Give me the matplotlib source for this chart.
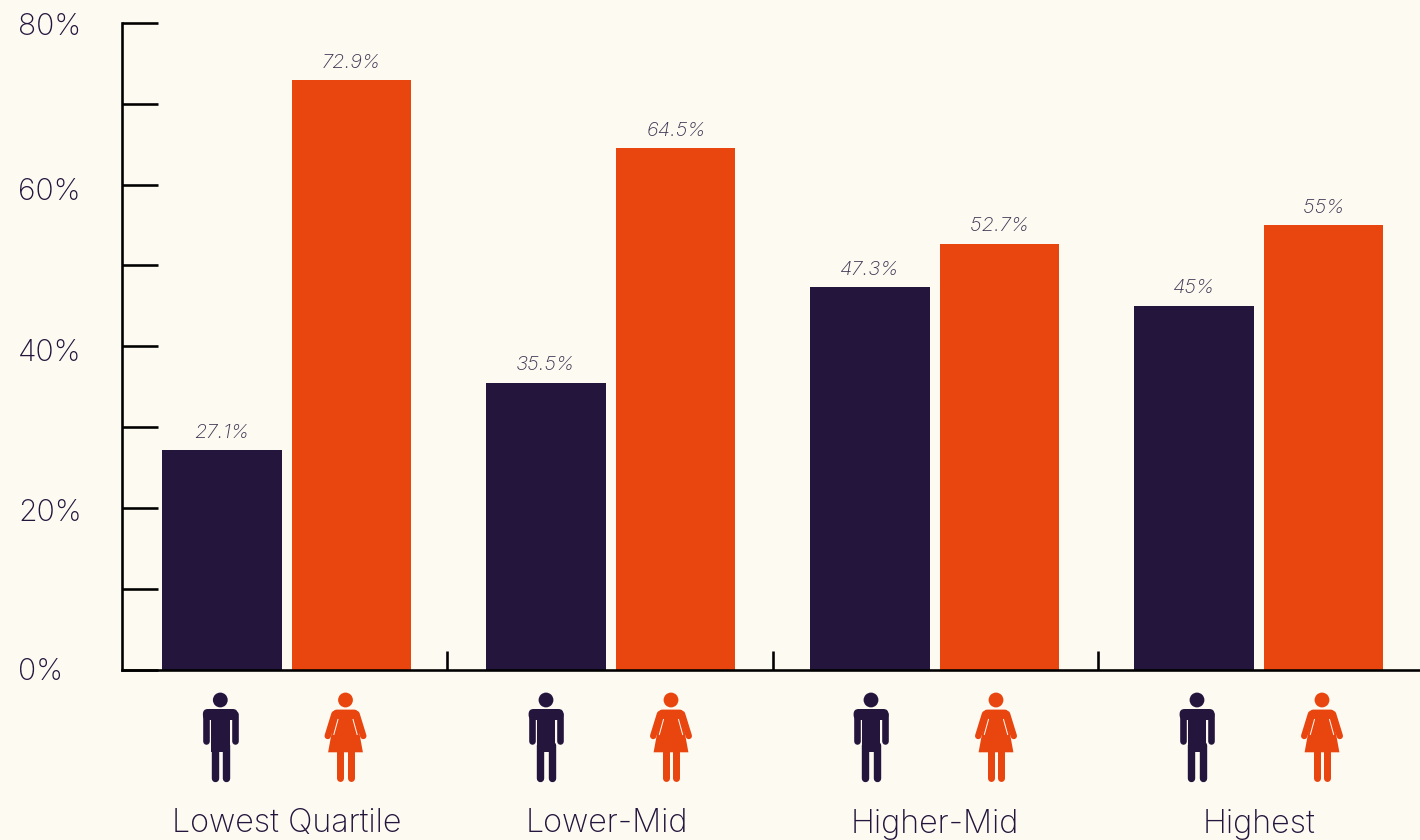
import numpy as np
import matplotlib
matplotlib.use("Agg")
import matplotlib.pyplot as plt
from matplotlib.patches import Circle, Polygon, FancyBboxPatch, Rectangle
from matplotlib.lines import Line2D
from matplotlib.transforms import ScaledTranslation

categories = ["Lowest Quartile", "Lower-Mid", "Higher-Mid", "Highest"]
men = [27.1, 35.5, 47.3, 45]
women = [72.9, 64.5, 52.7, 55]
men_labels = ["27.1%", "35.5%", "47.3%", "45%"]
women_labels = ["72.9%", "64.5%", "52.7%", "55%"]
major_ticks = [0, 20, 40, 60, 80]
minor_ticks = [10, 30, 50, 70]

NAVY = "#23153c"
ORANGE = "#e8450f"
BG = "#fdfaf2"
FONT = "Inter"
W, H = 1420, 840
PX = 0.72  # one pixel in points at dpi 100

plt.rcParams["font.family"] = [FONT, "DejaVu Sans"]


def line(ax, xs, ys, width, color, cap="round"):
    ax.add_line(Line2D(xs, ys, lw=width * PX, color=color, solid_capstyle=cap))


def draw_man(ax, cx):
    ax.add_patch(Circle((cx, 700), 7.4, fc=NAVY, ec="none"))
    ax.add_patch(FancyBboxPatch((cx - 17.4, 709), 34.8, 11, boxstyle="round,pad=0,rounding_size=5",
                                fc=NAVY, ec="none"))
    ax.add_patch(Rectangle((cx - 9.4, 712), 18.8, 40, fc=NAVY, ec="none"))
    for dx in (-14.2, 14.2):
        line(ax, [cx + dx, cx + dx], [714, 741], 6.6, NAVY)
    for dx in (-5.8, 5.8):
        line(ax, [cx + dx, cx + dx], [745, 778], 7.4, NAVY)


def draw_woman(ax, cx):
    ax.add_patch(Circle((cx, 700), 7.4, fc=ORANGE, ec="none"))
    ax.add_patch(FancyBboxPatch((cx - 12.5, 709.6), 25, 9, boxstyle="round,pad=0,rounding_size=4",
                                fc=ORANGE, ec="none"))
    ax.add_patch(Polygon([(cx - 10, 712), (cx + 10, 712), (cx + 17.4, 752.3), (cx - 17.4, 752.3)],
                         closed=True, fc=ORANGE, ec="none"))
    for sign in (-1, 1):
        line(ax, [cx + sign * 11, cx + sign * 17.8], [714, 736], 6.4, ORANGE)
        line(ax, [cx + sign * 7.4, cx + sign * 11.8], [719, 735], 1.0, BG, cap="butt")
        line(ax, [cx + sign * 5.3, cx + sign * 5.3], [752, 778], 7, ORANGE)


fig = plt.figure(figsize=(W / 100, H / 100), dpi=100, facecolor=BG)

# main axes, set so that the frame sits where the reference axis lines are
ax = fig.add_axes([122 / W, (H - 669.5) / H, (W - 122) / W, (669.5 - 23) / H], facecolor="none")
ax.set_ylim(0, 80)
x0 = -0.5085
ax.set_xlim(x0, x0 + (W - 122) / 324.0)

x = np.arange(len(categories))
bar_w = 119.4 / 324.0
off = 64.8 / 324.0
ax.bar(x - off, men, bar_w, color=NAVY)
ax.bar(x + off, women, bar_w, color=ORANGE)

for i in x:
    ax.text(i - off, men[i] + 1.05, men_labels[i], ha="center", va="bottom", style="italic",
            fontsize=14.5, color="#3d3350", fontweight="light")
    ax.text(i + off, women[i] + 1.05, women_labels[i], ha="center", va="bottom", style="italic",
            fontsize=14.5, color="#3d3350", fontweight="light")

for s in ("top", "right"):
    ax.spines[s].set_visible(False)
for s in ("left", "bottom"):
    ax.spines[s].set_linewidth(2.6 * PX)
    ax.spines[s].set_color("black")

ax.set_yticks(major_ticks)
ax.set_yticklabels([f"{t}%" for t in major_ticks], fontsize=21.8, color=NAVY, ha="left", fontweight="light")
ax.set_yticks(minor_ticks, minor=True)
ax.tick_params(axis="y", which="both", direction="in", length=36 * PX, width=2.6 * PX, color="black",
               pad=104 * PX)
ax.set_xticks([x0 + (px - 122) / 324.0 for px in (447, 773, 1098)])
ax.set_xticklabels([])
ax.tick_params(axis="x", direction="in", length=19 * PX, width=2.6 * PX, color="black")

# the labels in the reference do not sit quite level with their ticks
for lbl, dy in zip(ax.get_yticklabels(), (-1, 2, 4, 4, 1)):
    lbl.set_transform(lbl.get_transform() + ScaledTranslation(0, -dy / 100, fig.dpi_scale_trans))

# overlay in pixel coordinates for the pictograms and group names
ov = fig.add_axes([0, 0, 1, 1], facecolor="none")
ov.set_xlim(0, W)
ov.set_ylim(H, 0)
ov.axis("off")

for cx in (220.3, 546, 871, 1197):
    draw_man(ov, cx)
for cx in (345.5, 671, 996, 1322):
    draw_woman(ov, cx)

for name, cx in zip(categories, (287, 607, 935, 1259)):
    ov.text(cx, 824, name, ha="center", va="center", fontsize=23.3, color=NAVY, fontweight="light")

fig.savefig("out.png", dpi=100, facecolor=BG)
